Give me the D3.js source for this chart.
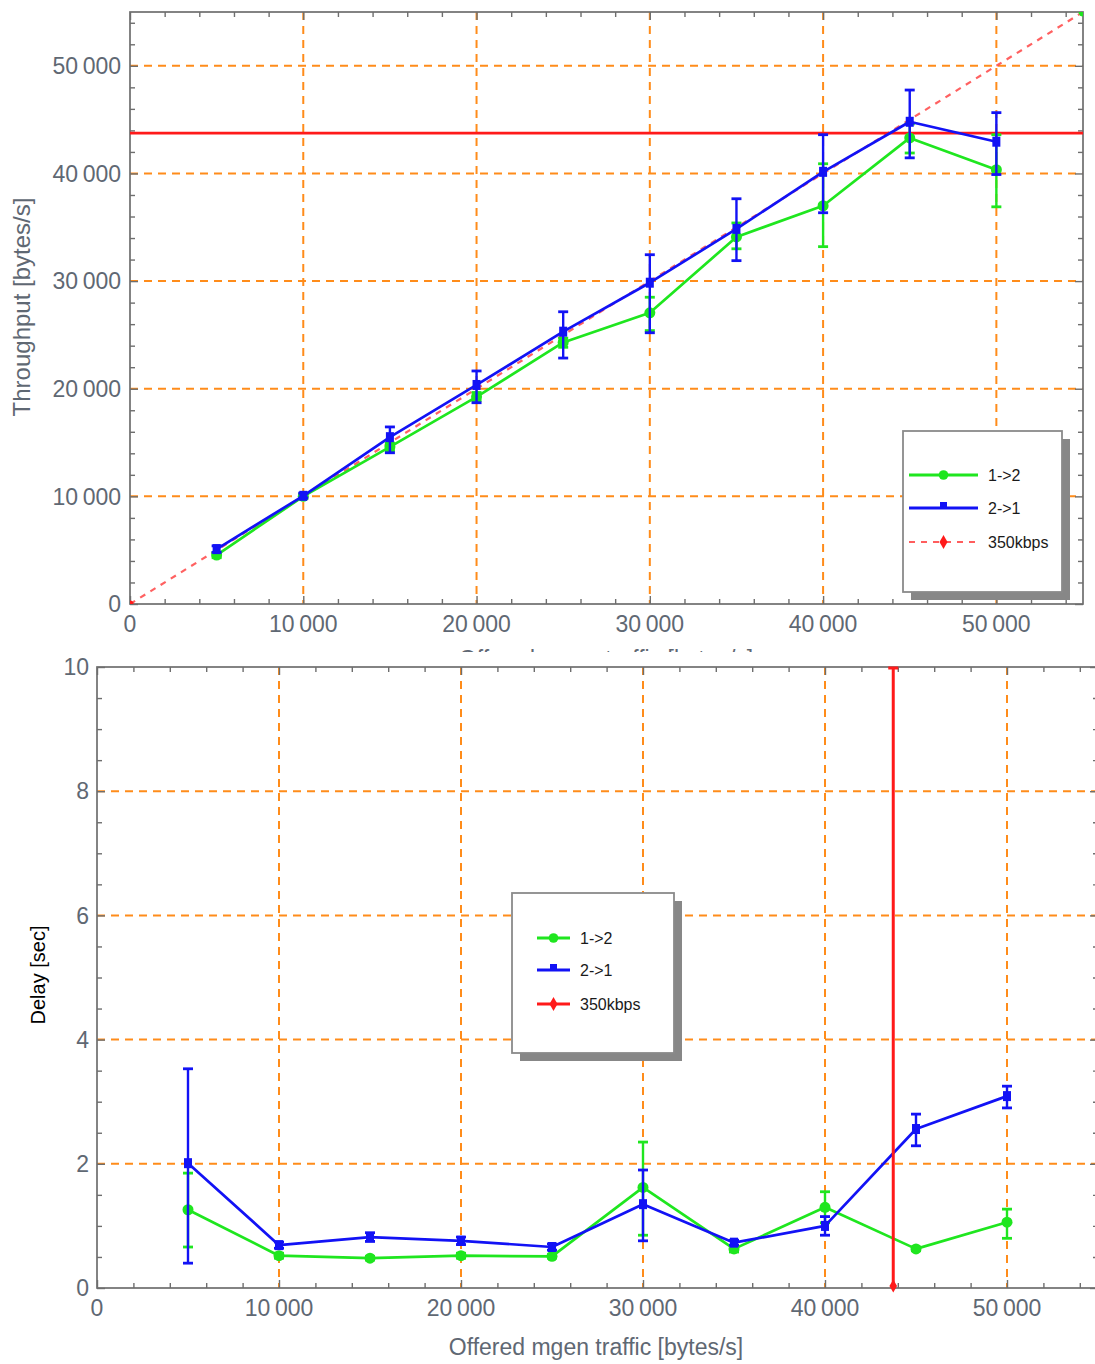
<!DOCTYPE html>
<html><head><meta charset="utf-8">
<script src="https://cdn.jsdelivr.net/npm/d3@7"></script>
<style>body{margin:0;background:#fff}svg{display:block}</style>
</head><body>
<svg id="c" width="1095" height="1364"></svg>
<script>
// ---------- data ----------
const offered = [5000,10000,15000,20000,25000,30000,35000,40000,45000,50000];
const seriesNames = ["1->2","2->1","350kbps"];
const limitRate = 43750; // 350 kbps in bytes/s

const thr12   = [4550,10000,14600,19250,24300,27050,34100,37000,43300,40350];
const thr12Lo = [4300, 9800,14250,18900,23850,25400,33000,33200,41900,36900];
const thr12Hi = [4800,10200,14950,19650,24700,28500,35400,40900,44600,43600];
const thr21   = [5100,10050,15500,20350,25300,29850,34850,40150,44800,42950];
const thr21Lo = [4800, 9850,14050,18700,22850,25200,31900,36350,41450,39900];
const thr21Hi = [5400,10300,16450,21650,27150,32450,37650,43600,47750,45650];

const del12   = [1.26,0.52,0.48,0.52,0.51,1.62,0.63,1.30,0.63,1.06];
const del12Lo = [0.66,0.48,0.45,0.48,0.48,0.85,0.58,1.05,0.60,0.80];
const del12Hi = [1.85,0.56,0.51,0.56,0.54,2.35,0.68,1.55,0.66,1.27];
const del21   = [2.01,0.69,0.82,0.76,0.66,1.35,0.73,1.00,2.56,3.09];
const del21Lo = [0.40,0.64,0.75,0.70,0.61,0.76,0.69,0.85,2.29,2.90];
const del21Hi = [3.53,0.74,0.89,0.82,0.71,1.90,0.77,1.15,2.80,3.25];
const delLimit = [0, 10]; // red vertical marker range at limitRate

const xTickVals = [0,10000,20000,30000,40000,50000];
const xTickLabels = ["0","10\u2009000","20\u2009000","30\u2009000","40\u2009000","50\u2009000"];
const yTopTickVals = [0,10000,20000,30000,40000,50000];
const yTopTickLabels = ["0","10\u2009000","20\u2009000","30\u2009000","40\u2009000","50\u2009000"];
const yBotTickVals = [0,2,4,6,8,10];
const yBotTickLabels = ["0","2","4","6","8","10"];

// ---------- styles ----------
const GREEN="#1fe61f", BLUE="#1212f5", RED="#ff1a1a", GRID="#ff8c1a", FRAME="#6e6e6e", LBL="#5f6873";
const FONT="'Liberation Sans', Arial, sans-serif";

const svg = d3.select("#c");

function panel(cfg){
  const g = svg.append("g");
  const x = d3.scaleLinear().domain([0,55000]).range([cfg.left,cfg.right]);
  const y = d3.scaleLinear().domain(cfg.yDomain).range([cfg.bottom,cfg.top]);
  const id = cfg.id;
  svg.append("clipPath").attr("id",id).append("rect")
    .attr("x",cfg.left).attr("y",cfg.top).attr("width",cfg.right-cfg.left).attr("height",cfg.bottom-cfg.top);

  const grid = g.append("g").attr("stroke",GRID).attr("stroke-width",2).attr("stroke-dasharray","8,6");
  xTickVals.filter(v=>v>0).forEach(v=>grid.append("line").attr("x1",x(v)).attr("x2",x(v)).attr("y1",cfg.top).attr("y2",cfg.bottom));
  cfg.yGrid.forEach(v=>grid.append("line").attr("y1",y(v)).attr("y2",y(v)).attr("x1",cfg.left).attr("x2",cfg.right));

  const xMinor = d3.range(0,55001,2000).filter(v=>v%10000!==0);
  const yMinor = d3.range(cfg.yDomain[0],cfg.yDomain[1]+1e-9,cfg.yMinorStep).filter(v=>Math.abs(v/cfg.yMajorStep-Math.round(v/cfg.yMajorStep))>1e-6);
  const axG = g.append("g");
  const mk = (axis, tr) => { const a = axG.append("g").attr("transform",tr).call(axis);
    a.select(".domain").remove(); a.selectAll("text").remove(); a.selectAll("line").attr("stroke",FRAME).attr("stroke-width",1.4); };
  mk(d3.axisBottom(x).tickValues(xMinor).tickSizeInner(-5).tickSizeOuter(0), `translate(0,${cfg.bottom})`);
  mk(d3.axisBottom(x).tickValues(xTickVals).tickSizeInner(-8).tickSizeOuter(0), `translate(0,${cfg.bottom})`);
  mk(d3.axisTop(x).tickValues(xMinor).tickSizeInner(-5).tickSizeOuter(0), `translate(0,${cfg.top})`);
  mk(d3.axisTop(x).tickValues(xTickVals).tickSizeInner(-8).tickSizeOuter(0), `translate(0,${cfg.top})`);
  mk(d3.axisLeft(y).tickValues(yMinor).tickSizeInner(-5).tickSizeOuter(0), `translate(${cfg.left},0)`);
  mk(d3.axisLeft(y).tickValues(cfg.yTicks).tickSizeInner(-8).tickSizeOuter(0), `translate(${cfg.left},0)`);
  mk(d3.axisRight(y).tickValues(yMinor).tickSizeInner(-5).tickSizeOuter(0), `translate(${cfg.right},0)`);
  mk(d3.axisRight(y).tickValues(cfg.yTicks).tickSizeInner(-8).tickSizeOuter(0), `translate(${cfg.right},0)`);
  g.append("rect").attr("x",cfg.left).attr("y",cfg.top).attr("width",cfg.right-cfg.left).attr("height",cfg.bottom-cfg.top)
    .attr("fill","none").attr("stroke",FRAME).attr("stroke-width",1.7);

  const lab = g.append("g").attr("font-family",FONT).attr("font-size",cfg.fs).attr("fill",LBL);
  xTickVals.forEach((v,i)=>lab.append("text").attr("x",x(v)).attr("y",cfg.bottom+cfg.xLabDy).attr("text-anchor","middle").text(xTickLabels[i]));
  cfg.yTicks.forEach((v,i)=>lab.append("text").attr("x",cfg.left-cfg.yLabDx).attr("y",y(v)).attr("dy","0.36em").attr("text-anchor","end").text(cfg.yLabels[i]));
  return {g,x,y,id};
}

function drawSeries(p, xs, ys, lo, hi, color, marker){
  const d = p.g.append("g").attr("clip-path",`url(#${p.id})`);
  const pts = xs.map((v,i)=>[p.x(v),p.y(ys[i])]);
  xs.forEach((v,i)=>{
    const cx=p.x(v), y1=p.y(lo[i]), y2=p.y(hi[i]);
    d.append("line").attr("x1",cx).attr("x2",cx).attr("y1",y1).attr("y2",y2).attr("stroke",color).attr("stroke-width",2.4);
    [y1,y2].forEach(yy=>d.append("line").attr("x1",cx-5).attr("x2",cx+5).attr("y1",yy).attr("y2",yy).attr("stroke",color).attr("stroke-width",2.8));
  });
  d.append("path").attr("d",d3.line()(pts)).attr("fill","none").attr("stroke",color).attr("stroke-width",2.7).attr("stroke-linejoin","round");
  pts.forEach(([cx,cy])=>{
    if(marker==="circle") d.append("circle").attr("cx",cx).attr("cy",cy).attr("r",5.5).attr("fill",color);
    else d.append("rect").attr("x",cx-4).attr("y",cy-5).attr("width",8).attr("height",10).attr("fill",color);
  });
}

function legend(x0,y0,w,h,rows,lineX1,lineX2,textX,fs){
  const g = svg.append("g");
  g.append("rect").attr("x",x0+8).attr("y",y0+8).attr("width",w).attr("height",h).attr("fill","#878787");
  g.append("rect").attr("x",x0).attr("y",y0).attr("width",w).attr("height",h).attr("fill","#fff").attr("stroke","#8a8a8a").attr("stroke-width",1.8);
  rows.forEach(r=>{
    g.append("line").attr("x1",lineX1).attr("x2",lineX2).attr("y1",r.y).attr("y2",r.y).attr("stroke",r.color)
      .attr("stroke-width",r.dash?2.2:2.8).attr("stroke-dasharray",r.dash?"6,6":null).attr("opacity",r.dash?0.7:1);
    const mx=(lineX1+lineX2)/2;
    if(r.marker==="circle") g.append("circle").attr("cx",mx).attr("cy",r.y).attr("r",4.8).attr("fill",r.color);
    else if(r.marker==="square") g.append("rect").attr("x",mx-3.5).attr("y",r.y-6).attr("width",7).attr("height",7).attr("fill",r.color);
    else g.append("path").attr("d",d3.symbol(d3.symbolDiamond,55)()).attr("transform",`translate(${mx},${r.y})`).attr("fill",r.color);
    g.append("text").attr("x",textX).attr("y",r.y).attr("dy","0.36em").attr("font-family",FONT).attr("font-size",fs).attr("fill","#1a1a1a").text(r.label);
  });
}

// ---------- top panel: throughput ----------
const topP = panel({id:"clipTop",left:130,right:1083,top:12,bottom:604,yDomain:[0,55000],
  yGrid:[10000,20000,30000,40000,50000],yTicks:yTopTickVals,yLabels:yTopTickLabels,yMinorStep:2000,yMajorStep:10000,
  fs:23,xLabDy:28,yLabDx:9});
const ideal = [0,55000];
const dl = topP.g.append("g").attr("clip-path","url(#clipTop)");
dl.append("line").attr("x1",topP.x(ideal[0])).attr("y1",topP.y(ideal[0])).attr("x2",topP.x(ideal[1])).attr("y2",topP.y(ideal[1]))
  .attr("stroke","#ff4646").attr("stroke-width",2.2).attr("stroke-dasharray","6,6").attr("opacity",0.85);
dl.append("line").attr("x1",topP.x(0)).attr("x2",topP.x(55000)).attr("y1",topP.y(limitRate)).attr("y2",topP.y(limitRate))
  .attr("stroke",RED).attr("stroke-width",2.8);
dl.append("circle").attr("cx",topP.x(0)).attr("cy",topP.y(0)).attr("r",3.5).attr("fill",RED);
dl.append("circle").attr("cx",topP.x(55000)).attr("cy",topP.y(55000)).attr("r",4.5).attr("fill",GREEN);
drawSeries(topP, offered, thr12, thr12Lo, thr12Hi, GREEN, "circle");
drawSeries(topP, offered, thr21, thr21Lo, thr21Hi, BLUE, "square");
svg.append("text").attr("transform","translate(30,307) rotate(-90)").attr("text-anchor","middle")
  .attr("font-family",FONT).attr("font-size",24).attr("fill",LBL).text("Throughput [bytes/s]");
svg.append("text").attr("x",606).attr("y",667).attr("text-anchor","middle")
  .attr("font-family",FONT).attr("font-size",23).attr("fill",LBL).text("Offered mgen traffic [bytes/s]");
legend(903,431,159,161,[
  {y:475,color:GREEN,marker:"circle",label:seriesNames[0]},
  {y:508,color:BLUE,marker:"square",label:seriesNames[1]},
  {y:542,color:RED,marker:"diamond",dash:true,label:seriesNames[2]}],909,978,988,16);

svg.append("rect").attr("x",0).attr("y",652).attr("width",1095).attr("height",712).attr("fill","#fff");

// ---------- bottom panel: delay ----------
const botP = panel({id:"clipBot",left:97,right:1098,top:667,bottom:1288,yDomain:[0,10],
  yGrid:[2,4,6,8],yTicks:yBotTickVals,yLabels:yBotTickLabels,yMinorStep:0.5,yMajorStep:2,
  fs:23,xLabDy:28,yLabDx:8});
drawSeries(botP, offered, del12, del12Lo, del12Hi, GREEN, "circle");
drawSeries(botP, offered, del21, del21Lo, del21Hi, BLUE, "square");
const lim = botP.g.append("g");
lim.append("line").attr("x1",botP.x(limitRate)).attr("x2",botP.x(limitRate)).attr("y1",botP.y(delLimit[0])).attr("y2",botP.y(delLimit[1]))
  .attr("stroke",RED).attr("stroke-width",3);
lim.append("line").attr("x1",botP.x(limitRate)-5).attr("x2",botP.x(limitRate)+5).attr("y1",botP.y(delLimit[1])+1).attr("y2",botP.y(delLimit[1])+1)
  .attr("stroke",RED).attr("stroke-width",3);
lim.append("path").attr("d",d3.symbol(d3.symbolDiamond,50)()).attr("transform",`translate(${botP.x(limitRate)},${botP.y(delLimit[0])-2})`).attr("fill",RED);

svg.append("text").attr("transform","translate(45,975) rotate(-90)").attr("text-anchor","middle")
  .attr("font-family",FONT).attr("font-size",20).attr("fill","#000").text("Delay [sec]");
svg.append("text").attr("x",596).attr("y",1355).attr("text-anchor","middle")
  .attr("font-family",FONT).attr("font-size",23).attr("fill",LBL).text("Offered mgen traffic [bytes/s]");
legend(512,893,162,160,[
  {y:938,color:GREEN,marker:"circle",label:seriesNames[0]},
  {y:970,color:BLUE,marker:"square",label:seriesNames[1]},
  {y:1004,color:RED,marker:"diamond",label:seriesNames[2]}],537,570,580,16);
</script>
</body></html>
